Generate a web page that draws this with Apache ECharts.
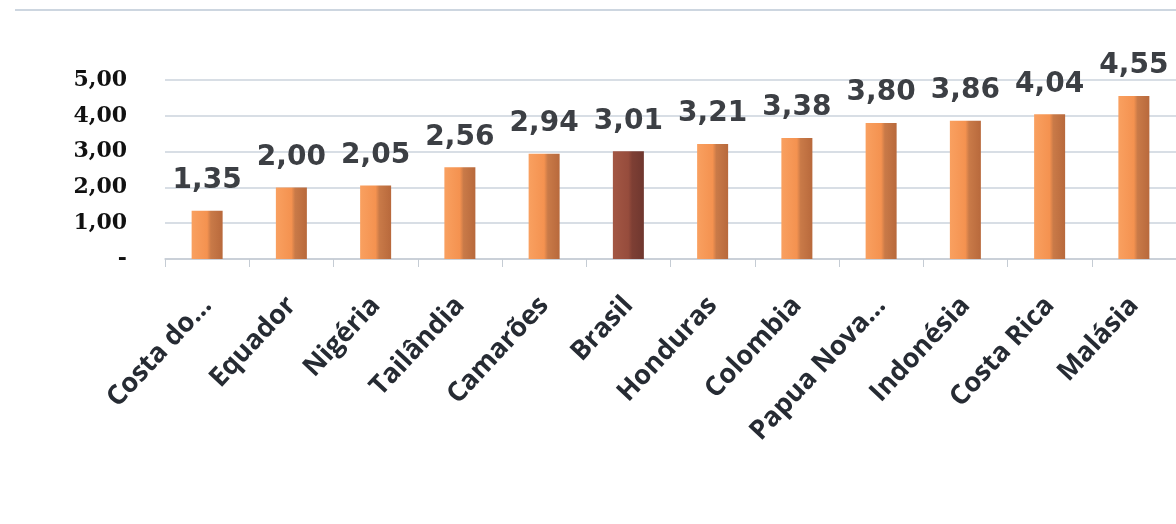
<!DOCTYPE html>
<html>
<head>
<meta charset="utf-8">
<script src="https://cdn.jsdelivr.net/npm/echarts@6/dist/echarts.min.js"></script>
<style>
  html, body { margin: 0; padding: 0; background: #fff; }
  #chart { width: 1176px; height: 524px; }
</style>
</head>
<body>
<div id="chart"></div>
<script>
var countries = ['Costa do…', 'Equador', 'Nigéria', 'Tailândia', 'Camarões', 'Brasil',
                 'Honduras', 'Colombia', 'Papua Nova…', 'Indonésia', 'Costa Rica', 'Malásia'];
var values = [1.35, 2.00, 2.05, 2.56, 2.94, 3.01, 3.21, 3.38, 3.80, 3.86, 4.04, 4.55];
var highlight = 'Brasil';

function fmt(v) {
  if (v === 0) return '-';
  return v.toFixed(2).replace('.', ',');
}

function barColor(name) {
  var dark = name === highlight;
  return new echarts.graphic.LinearGradient(0, 0, 1, 0, dark ? [
    { offset: 0, color: '#a35744' },
    { offset: 0.5, color: '#964c3c' },
    { offset: 0.62, color: '#7e3f34' },
    { offset: 1, color: '#6f372f' }
  ] : [
    { offset: 0, color: '#f9a060' },
    { offset: 0.5, color: '#f49250' },
    { offset: 0.62, color: '#c97a48' },
    { offset: 1, color: '#b8693c' }
  ]);
}

var chart = echarts.init(document.getElementById('chart'));

var option = {
  animation: false,
  backgroundColor: '#fff',
  grid: { left: 165, right: -9, top: 80, bottom: 265 },
  graphic: [{
    type: 'line',
    shape: { x1: 15, y1: 10, x2: 1176, y2: 10 },
    style: { stroke: '#cdd6e0', lineWidth: 2 }
  }],
  xAxis: {
    type: 'category',
    data: countries,
    axisLine: { lineStyle: { color: '#c5ccd4', width: 1.5 } },
    axisTick: { show: true, length: 8, lineStyle: { color: '#c5ccd4' } },
    axisLabel: {
      rotate: 47,
      margin: 42,
      interval: 0,
      fontFamily: 'Open Sans',
      fontWeight: 'bold',
      fontSize: 27,
      color: '#262b33'
    }
  },
  yAxis: {
    type: 'value',
    min: 0,
    max: 5,
    interval: 1,
    axisLine: { show: false },
    axisTick: { show: false },
    splitLine: { lineStyle: { color: '#cbd3dc', width: 1.5 } },
    axisLabel: {
      margin: 38,
      fontFamily: 'DejaVu Serif',
      fontWeight: 'bold',
      fontSize: 22,
      color: '#111',
      formatter: fmt
    }
  },
  series: [{
    type: 'bar',
    barWidth: 31,
    data: values.map(function (v, i) {
      return { value: v, itemStyle: { color: barColor(countries[i]) } };
    }),
    label: {
      show: true,
      position: 'top',
      distance: 16,
      fontFamily: 'DejaVu Sans',
      fontWeight: 'bold',
      fontSize: 28,
      color: '#3c3f44',
      formatter: function (p) { return fmt(p.value); }
    }
  }]
};

chart.setOption(option);
</script>
</body>
</html>
